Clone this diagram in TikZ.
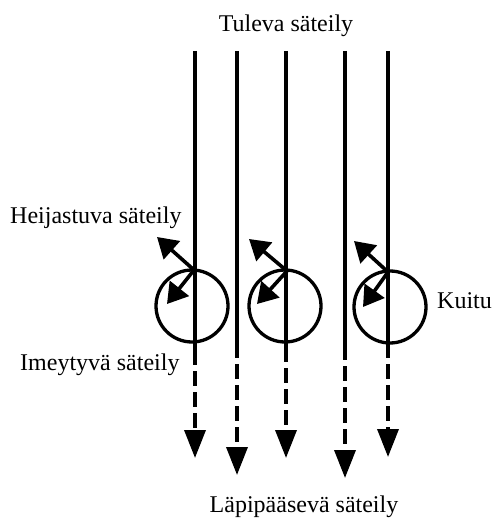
\documentclass[tikz,border=0pt]{standalone}
\usepackage{fontspec}
\setmainfont{Liberation Serif}
\usetikzlibrary{arrows.meta}
\begin{document}
\begin{tikzpicture}[x=1pt,y=-1pt,
  fibre/.style={circle,draw,line width=3.3pt,minimum size=72pt,inner sep=0pt},
  bounce/.style={line width=3.6pt,-{Triangle[length=20pt,width=24pt]}},
  lbl/.style={inner sep=0pt,font=\fontsize{24}{28}\selectfont}]
\useasboundingbox (0,0) rectangle (492,518);

% incoming rays: solid above, dashed below the fibres, ending in a head
\foreach \i/\x/\s/\e in {1/195/365/458, 2/237/358/475, 3/286/362/458,
                         4/345/360/478, 5/388/358/457}{
  \coordinate (top\i) at (\x,51);
  \coordinate (end\i) at (\x,\e);
  \pgfmathsetmacro\solid{\s-51}
  \draw[line width=3.6pt,
        dash pattern=on \solid pt off 6pt on 15pt off 6pt on 15pt off 6pt
                     on 15pt off 6pt on 15pt off 60pt,
        -{Triangle[length=28pt,width=21pt]}] (top\i) -- (end\i);
}

% fibres
\node[fibre] (f1) at (192,306) {};
\node[fibre] (f2) at (285,306) {};
\node[fibre] (f3) at (390,307) {};

% reflected and absorbed parts at each fibre
\foreach \i/\hx/\hy/\rx/\ry/\ax/\ay in {1/194/270/157/237/167/304,
                                        2/287/271/249/239/257/304,
                                        3/388/272/354/241/363/307}{
  \coordinate (hit\i) at (\hx,\hy);
  \coordinate (ref\i) at (\rx,\ry);
  \coordinate (abs\i) at (\ax,\ay);
  \draw[bounce] (hit\i) -- (ref\i);
  \draw[bounce] (hit\i) -- (abs\i);
}

% labels
\node[lbl,anchor=base] (tul) at (286,32) {Tuleva säteily};
\node[lbl,anchor=base west] (hei) at (10,223) {Heijastuva säteily};
\node[lbl,anchor=base west] (ime) at (20,370) {Imeytyvä säteily};
\node[lbl,anchor=base west] (kui) at (437,308) {Kuitu};
\node[lbl,anchor=base] (lap) at (304,512) {Läpipääsevä säteily};
\end{tikzpicture}
\end{document}
